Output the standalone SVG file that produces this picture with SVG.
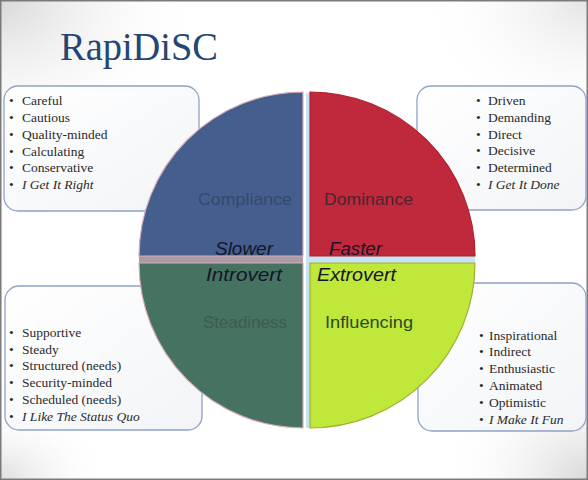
<svg xmlns="http://www.w3.org/2000/svg" width="588" height="480" viewBox="0 0 588 480">
<defs>
<radialGradient id="gTL" cx="0" cy="0" r="1"><stop offset="0" stop-color="#d8d8d8"/><stop offset="1" stop-color="#ffffff" stop-opacity="0"/></radialGradient>
<radialGradient id="gBR" cx="1" cy="1" r="1"><stop offset="0" stop-color="#d8d8d8"/><stop offset="1" stop-color="#ffffff" stop-opacity="0"/></radialGradient>
<radialGradient id="gTR" cx="1" cy="0" r="1"><stop offset="0" stop-color="#e4e4e4"/><stop offset="1" stop-color="#ffffff" stop-opacity="0"/></radialGradient>
<radialGradient id="gBL" cx="0" cy="1" r="1"><stop offset="0" stop-color="#dedede"/><stop offset="1" stop-color="#ffffff" stop-opacity="0"/></radialGradient>
<linearGradient id="boxFill" x1="0" y1="0" x2="1" y2="1"><stop offset="0" stop-color="#ffffff"/><stop offset="1" stop-color="#f2f4f7"/></linearGradient>
</defs>
<style>
.box{fill:url(#boxFill);stroke:#8fa3c5;stroke-width:1.3}
.li{font-family:"Liberation Serif",serif;font-size:13.5px;fill:#2a2a2a}
.it{font-style:italic}
.q{font-family:"Liberation Sans",Arial,sans-serif;font-size:17px}
.ax{font-family:"Liberation Sans",Arial,sans-serif;font-size:18px;font-style:italic;fill:#15152a}
</style>
<rect x="0" y="0" width="588" height="480" fill="#ffffff"/>
<rect x="0" y="0" width="200" height="160" fill="url(#gTL)"/>
<rect x="420" y="0" width="168" height="130" fill="url(#gTR)"/>
<rect x="0" y="400" width="110" height="80" fill="url(#gBL)"/>
<rect x="440" y="350" width="148" height="130" fill="url(#gBR)"/>
<rect x="0.5" y="0.5" width="587" height="479" fill="none" stroke="#7a7a7a" stroke-width="2"/>

<text x="60" y="60" font-family="Liberation Serif,serif" font-size="39" fill="#254672" textLength="158" lengthAdjust="spacingAndGlyphs">RapiDiSC</text>

<g id="box-compliance">
<rect class="box" x="4" y="86" width="195" height="125" rx="14"/>
<text class="li"><tspan x="9" y="105">•</tspan><tspan x="22" y="105">Careful</tspan></text>
<text class="li"><tspan x="9" y="122">•</tspan><tspan x="22" y="122">Cautious</tspan></text>
<text class="li"><tspan x="9" y="139">•</tspan><tspan x="22" y="139">Quality-minded</tspan></text>
<text class="li"><tspan x="9" y="156">•</tspan><tspan x="22" y="156">Calculating</tspan></text>
<text class="li"><tspan x="9" y="172">•</tspan><tspan x="22" y="172">Conservative</tspan></text>
<text class="li"><tspan x="9" y="189">•</tspan><tspan class="it" x="22" y="189">I Get It Right</tspan></text>
</g>

<g id="box-dominance">
<rect class="box" x="417" y="86" width="169" height="124" rx="14"/>
<text class="li"><tspan x="476" y="105">•</tspan><tspan x="488" y="105">Driven</tspan></text>
<text class="li"><tspan x="476" y="122">•</tspan><tspan x="488" y="122">Demanding</tspan></text>
<text class="li"><tspan x="476" y="139">•</tspan><tspan x="488" y="139">Direct</tspan></text>
<text class="li"><tspan x="476" y="155">•</tspan><tspan x="488" y="155">Decisive</tspan></text>
<text class="li"><tspan x="476" y="172">•</tspan><tspan x="488" y="172">Determined</tspan></text>
<text class="li"><tspan x="476" y="189">•</tspan><tspan class="it" x="488" y="189">I Get It Done</tspan></text>
</g>

<g id="box-steadiness">
<rect class="box" x="5" y="286" width="197" height="144" rx="14"/>
<text class="li"><tspan x="9" y="337">•</tspan><tspan x="22" y="337">Supportive</tspan></text>
<text class="li"><tspan x="9" y="354">•</tspan><tspan x="22" y="354">Steady</tspan></text>
<text class="li"><tspan x="9" y="370">•</tspan><tspan x="22" y="370">Structured (needs)</tspan></text>
<text class="li"><tspan x="9" y="387">•</tspan><tspan x="22" y="387">Security-minded</tspan></text>
<text class="li"><tspan x="9" y="404">•</tspan><tspan x="22" y="404">Scheduled (needs)</tspan></text>
<text class="li"><tspan x="9" y="421">•</tspan><tspan class="it" x="22" y="421">I Like The Status Quo</tspan></text>
</g>

<g id="box-influencing">
<rect class="box" x="418" y="283" width="168" height="148" rx="14"/>
<text class="li"><tspan x="479" y="340">•</tspan><tspan x="489" y="340">Inspirational</tspan></text>
<text class="li"><tspan x="479" y="356">•</tspan><tspan x="489" y="356">Indirect</tspan></text>
<text class="li"><tspan x="479" y="373">•</tspan><tspan x="489" y="373">Enthusiastic</tspan></text>
<text class="li"><tspan x="479" y="390">•</tspan><tspan x="489" y="390">Animated</tspan></text>
<text class="li"><tspan x="479" y="407">•</tspan><tspan x="489" y="407">Optimistic</tspan></text>
<text class="li"><tspan x="479" y="424">•</tspan><tspan class="it" x="489" y="424">I Make It Fun</tspan></text>
</g>

<g id="dividers">
<rect x="306" y="93" width="4" height="335" fill="#c6e4f3"/>
<rect x="139" y="256" width="164" height="7" fill="#a99ba7"/>
<rect x="310" y="256" width="165" height="7" fill="#c6e4f3"/>
</g>

<g id="q-compliance">
<path d="M303,256 L139,256 A164,164 0 0 1 303,92 Z" fill="#445f8e" stroke="#d9aab4" stroke-width="1.2"/>
<text class="q" x="198" y="205" fill="#34496c" textLength="94" lengthAdjust="spacingAndGlyphs">Compliance</text>
</g>
<g id="q-dominance">
<path d="M310,256 L310,92 A165,164 0 0 1 475,256 Z" fill="#c0293b" stroke="#b0202f" stroke-width="1.2"/>
<text class="q" x="324" y="205" fill="#4b2333" textLength="89" lengthAdjust="spacingAndGlyphs">Dominance</text>
</g>
<g id="q-steadiness">
<path d="M303,263 L139,263 A164,165 0 0 0 303,428 Z" fill="#467262" stroke="#d9aab4" stroke-width="1.2"/>
<text class="q" x="203" y="328" fill="#3b5d50" textLength="84" lengthAdjust="spacingAndGlyphs">Steadiness</text>
</g>
<g id="q-influencing">
<path d="M310,263 L475,263 A165,165 0 0 1 310,428 Z" fill="#bfe83b" stroke="#a0b030" stroke-width="1.2"/>
<text class="q" x="325" y="328" fill="#2c4a27" textLength="88" lengthAdjust="spacingAndGlyphs">Influencing</text>
</g>

<g id="axis-labels">
<text class="ax" x="215" y="255" textLength="58" lengthAdjust="spacingAndGlyphs">Slower</text>
<text class="ax" x="329" y="255" textLength="53" lengthAdjust="spacingAndGlyphs">Faster</text>
<text class="ax" x="206" y="281" textLength="76" lengthAdjust="spacingAndGlyphs">Introvert</text>
<text class="ax" x="317" y="281" textLength="79" lengthAdjust="spacingAndGlyphs">Extrovert</text>
</g>
</svg>
